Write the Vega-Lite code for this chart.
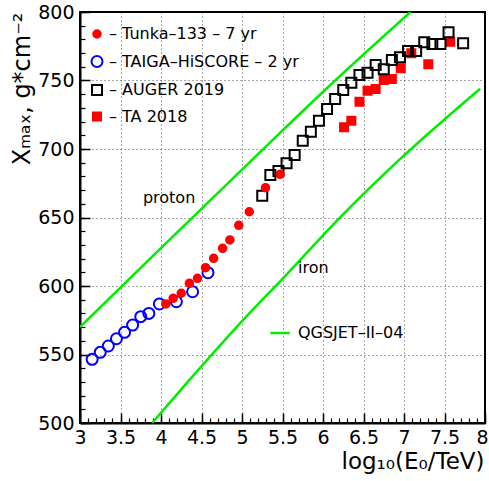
{
  "$schema": "https://vega.github.io/schema/vega-lite/v6.json",
  "width": 405,
  "height": 411,
  "autosize": {"type": "none"},
  "padding": {"left": 80, "top": 12, "right": 4, "bottom": 58},
  "background": "white",
  "config": {
    "font": "DejaVu Sans",
    "view": {"stroke": "#000", "strokeWidth": 2},
    "legend": {
      "orient": "none",
      "legendX": 9,
      "legendY": 14,
      "padding": 0,
      "labelFontSize": 16,
      "labelFont": "DejaVu Sans",
      "labelColor": "#000",
      "rowPadding": 9.5,
      "symbolStrokeWidth": 2,
      "labelOffset": 4,
      "labelLimit": 300
    }
  },
  "layer": [
    {
      "data": {"values": [
        {"model": "proton", "x": 3.0, "y": 570},
        {"model": "proton", "x": 3.97, "y": 626},
        {"model": "proton", "x": 5.14, "y": 693},
        {"model": "proton", "x": 6.15, "y": 750},
        {"model": "proton", "x": 7.08, "y": 800},
        {"model": "iron", "x": 3.89, "y": 500},
        {"model": "iron", "x": 4.33, "y": 530},
        {"model": "iron", "x": 5.09, "y": 580},
        {"model": "iron", "x": 5.48, "y": 604},
        {"model": "iron", "x": 6.26, "y": 653},
        {"model": "iron", "x": 6.94, "y": 692},
        {"model": "iron", "x": 7.94, "y": 744}
      ]},
      "mark": {"type": "line", "color": "#00ee00", "strokeWidth": 2.5, "clip": true, "interpolate": "monotone"},
      "encoding": {
        "x": {"field": "x", "type": "quantitative",
          "scale": {"domain": [3, 8], "nice": false, "zero": false},
          "axis": {"orient": "bottom", "values": [3,3.1,3.2,3.3,3.4,3.5,3.6,3.7,3.8,3.9,4,4.1,4.2,4.3,4.4,4.5,4.6,4.7,4.8,4.9,5,5.1,5.2,5.3,5.4,5.5,5.6,5.7,5.8,5.9,6,6.1,6.2,6.3,6.4,6.5,6.6,6.7,6.8,6.9,7,7.1,7.2,7.3,7.4,7.5,7.6,7.7,7.8,7.9,8],
            "labels": false, "grid": false, "title": null, "domain": false, "ticks": true, "tickSize": -5, "tickColor": "#000", "tickWidth": 1.2}},
        "y": {"field": "y", "type": "quantitative",
          "scale": {"domain": [500, 800], "nice": false, "zero": false},
          "axis": {"orient": "left", "values": [500,510,520,530,540,550,560,570,580,590,600,610,620,630,640,650,660,670,680,690,700,710,720,730,740,750,760,770,780,790,800],
            "labels": false, "grid": false, "title": null, "domain": false, "ticks": true, "tickSize": -5, "tickColor": "#000", "tickWidth": 1.2}},
        "detail": {"field": "model", "type": "nominal"}
      }
    },
    {
      "data": {"values": [
        {"series": "TA 2018", "x": 6.26, "y": 715.8},
        {"series": "TA 2018", "x": 6.35, "y": 720.7},
        {"series": "TA 2018", "x": 6.45, "y": 734.5},
        {"series": "TA 2018", "x": 6.55, "y": 742.6},
        {"series": "TA 2018", "x": 6.65, "y": 743.8},
        {"series": "TA 2018", "x": 6.75, "y": 750.4},
        {"series": "TA 2018", "x": 6.85, "y": 751.1},
        {"series": "TA 2018", "x": 6.96, "y": 758.9},
        {"series": "TA 2018", "x": 7.09, "y": 769.9},
        {"series": "TA 2018", "x": 7.30, "y": 761.8},
        {"series": "TA 2018", "x": 7.57, "y": 778.3},
        {"series": "AUGER 2019", "x": 5.25, "y": 665.9},
        {"series": "AUGER 2019", "x": 5.35, "y": 681.0},
        {"series": "AUGER 2019", "x": 5.45, "y": 684.0},
        {"series": "AUGER 2019", "x": 5.55, "y": 689.6},
        {"series": "AUGER 2019", "x": 5.65, "y": 695.6},
        {"series": "AUGER 2019", "x": 5.75, "y": 706.0},
        {"series": "AUGER 2019", "x": 5.85, "y": 712.6},
        {"series": "AUGER 2019", "x": 5.95, "y": 720.7},
        {"series": "AUGER 2019", "x": 6.05, "y": 729.2},
        {"series": "AUGER 2019", "x": 6.15, "y": 736.5},
        {"series": "AUGER 2019", "x": 6.25, "y": 743.0},
        {"series": "AUGER 2019", "x": 6.35, "y": 748.4},
        {"series": "AUGER 2019", "x": 6.45, "y": 754.0},
        {"series": "AUGER 2019", "x": 6.55, "y": 755.7},
        {"series": "AUGER 2019", "x": 6.65, "y": 761.3},
        {"series": "AUGER 2019", "x": 6.75, "y": 758.2},
        {"series": "AUGER 2019", "x": 6.85, "y": 765.0},
        {"series": "AUGER 2019", "x": 6.95, "y": 766.9},
        {"series": "AUGER 2019", "x": 7.05, "y": 771.5},
        {"series": "AUGER 2019", "x": 7.15, "y": 771.5},
        {"series": "AUGER 2019", "x": 7.25, "y": 777.9},
        {"series": "AUGER 2019", "x": 7.35, "y": 776.6},
        {"series": "AUGER 2019", "x": 7.45, "y": 776.6},
        {"series": "AUGER 2019", "x": 7.55, "y": 785.2},
        {"series": "AUGER 2019", "x": 7.73, "y": 777.2},
        {"series": "TAIGA–HiSCORE – 2 yr", "x": 3.15, "y": 546.5},
        {"series": "TAIGA–HiSCORE – 2 yr", "x": 3.25, "y": 551.6},
        {"series": "TAIGA–HiSCORE – 2 yr", "x": 3.35, "y": 556.2},
        {"series": "TAIGA–HiSCORE – 2 yr", "x": 3.45, "y": 561.5},
        {"series": "TAIGA–HiSCORE – 2 yr", "x": 3.55, "y": 566.2},
        {"series": "TAIGA–HiSCORE – 2 yr", "x": 3.65, "y": 571.5},
        {"series": "TAIGA–HiSCORE – 2 yr", "x": 3.75, "y": 577.6},
        {"series": "TAIGA–HiSCORE – 2 yr", "x": 3.85, "y": 580.0},
        {"series": "TAIGA–HiSCORE – 2 yr", "x": 3.98, "y": 586.9},
        {"series": "TAIGA–HiSCORE – 2 yr", "x": 4.19, "y": 588.5},
        {"series": "TAIGA–HiSCORE – 2 yr", "x": 4.39, "y": 595.8},
        {"series": "TAIGA–HiSCORE – 2 yr", "x": 4.58, "y": 609.7},
        {"series": "Tunka–133 – 7 yr", "x": 4.06, "y": 586.9},
        {"series": "Tunka–133 – 7 yr", "x": 4.15, "y": 591.0},
        {"series": "Tunka–133 – 7 yr", "x": 4.25, "y": 594.7},
        {"series": "Tunka–133 – 7 yr", "x": 4.35, "y": 602.0},
        {"series": "Tunka–133 – 7 yr", "x": 4.45, "y": 605.6},
        {"series": "Tunka–133 – 7 yr", "x": 4.55, "y": 613.4},
        {"series": "Tunka–133 – 7 yr", "x": 4.65, "y": 620.2},
        {"series": "Tunka–133 – 7 yr", "x": 4.76, "y": 627.5},
        {"series": "Tunka–133 – 7 yr", "x": 4.85, "y": 633.6},
        {"series": "Tunka–133 – 7 yr", "x": 4.96, "y": 644.3},
        {"series": "Tunka–133 – 7 yr", "x": 5.09, "y": 654.2},
        {"series": "Tunka–133 – 7 yr", "x": 5.29, "y": 671.8},
        {"series": "Tunka–133 – 7 yr", "x": 5.47, "y": 681.5}
      ]},
      "mark": {"type": "point", "strokeWidth": 2, "opacity": 1, "clip": true},
      "encoding": {
        "x": {"field": "x", "type": "quantitative",
          "scale": {"domain": [3, 8], "nice": false, "zero": false},
          "axis": {"orient": "bottom", "values": [3,3.5,4,4.5,5,5.5,6,6.5,7,7.5,8], "format": ".1~f",
            "labelFontSize": 19, "labelColor": "#000", "labelPadding": 15, "labelFlush": false, "labelOverlap": false,
            "labelOffset": {"condition": {"test": "datum.value == 8", "value": -3}, "value": 0},
            "tickSize": -10, "tickWidth": 1.5, "tickColor": "#000",
            "domain": true, "domainColor": "#000", "domainWidth": 2,
            "grid": true, "gridColor": "#000", "gridDash": [1, 3], "gridWidth": 1, "gridOpacity": 0.7,
            "title": "log₁₀(E₀/TeV)", "titleFontSize": 23, "titleFontWeight": "normal", "titleColor": "#000",
            "titleX": 404, "titleY": 38, "titleAlign": "right", "titleBaseline": "middle"}},
        "y": {"field": "y", "type": "quantitative",
          "scale": {"domain": [500, 800], "nice": false, "zero": false},
          "axis": {"orient": "left", "values": [500,550,600,650,700,750,800],
            "labelFontSize": 19, "labelColor": "#000", "labelPadding": 16, "labelFlush": false, "labelOverlap": false,
            "tickSize": -10, "tickWidth": 1.5, "tickColor": "#000",
            "domain": true, "domainColor": "#000", "domainWidth": 2,
            "grid": true, "gridColor": "#000", "gridDash": [1, 3], "gridWidth": 1, "gridOpacity": 0.7,
            "title": "Xₘₐₓ, g*cm⁻²", "titleFontSize": 24, "titleFontWeight": "normal", "titleColor": "#000",
            "titleAngle": -90, "titleX": -58, "titleY": 0, "titleAlign": "right", "titleBaseline": "middle"}},
        "shape": {"field": "series", "type": "nominal",
          "scale": {"domain": ["Tunka–133 – 7 yr", "TAIGA–HiSCORE – 2 yr", "AUGER 2019", "TA 2018"], "range": ["circle", "circle", "square", "square"]},
          "legend": {"title": null, "labelExpr": "'– ' + datum.label"}},
        "stroke": {"field": "series", "type": "nominal",
          "scale": {"domain": ["Tunka–133 – 7 yr", "TAIGA–HiSCORE – 2 yr", "AUGER 2019", "TA 2018"], "range": ["#ff0000", "#0000ff", "#000000", "#ff0000"]},
          "legend": {"title": null, "labelExpr": "'– ' + datum.label"}},
        "fill": {"field": "series", "type": "nominal",
          "scale": {"domain": ["Tunka–133 – 7 yr", "TAIGA–HiSCORE – 2 yr", "AUGER 2019", "TA 2018"], "range": ["#ff0000", "transparent", "transparent", "#ff0000"]},
          "legend": {"title": null, "labelExpr": "'– ' + datum.label"}},
        "size": {"field": "series", "type": "nominal",
          "scale": {"type": "ordinal", "domain": ["Tunka–133 – 7 yr", "TAIGA–HiSCORE – 2 yr", "AUGER 2019", "TA 2018"], "range": [56, 121, 100, 64]},
          "legend": {"title": null, "labelExpr": "'– ' + datum.label"}}
      }
    },
    {
      "data": {"values": [{}]},
      "mark": {"type": "rule", "color": "#00ee00", "strokeWidth": 2.5},
      "encoding": {
        "x": {"datum": 5.35, "type": "quantitative", "axis": null},
        "x2": {"datum": 5.59},
        "y": {"datum": 565.7, "type": "quantitative", "axis": null}
      }
    },
    {
      "data": {"values": [{}]},
      "mark": {"type": "text", "fontSize": 16, "align": "left", "baseline": "middle", "color": "#000"},
      "encoding": {
        "x": {"datum": 5.69, "type": "quantitative", "axis": null},
        "y": {"datum": 565.7, "type": "quantitative", "axis": null},
        "text": {"value": "QGSJET–II–04"}
      }
    },
    {
      "data": {"values": [{}]},
      "mark": {"type": "text", "fontSize": 16, "align": "center", "baseline": "middle", "color": "#000"},
      "encoding": {
        "x": {"datum": 4.1, "type": "quantitative", "axis": null},
        "y": {"datum": 664.2, "type": "quantitative", "axis": null},
        "text": {"value": "proton"}
      }
    },
    {
      "data": {"values": [{}]},
      "mark": {"type": "text", "fontSize": 16, "align": "center", "baseline": "middle", "color": "#000"},
      "encoding": {
        "x": {"datum": 5.88, "type": "quantitative", "axis": null},
        "y": {"datum": 613.1, "type": "quantitative", "axis": null},
        "text": {"value": "iron"}
      }
    }
  ],
  "resolve": {"axis": {"x": "independent", "y": "independent"}}
}
